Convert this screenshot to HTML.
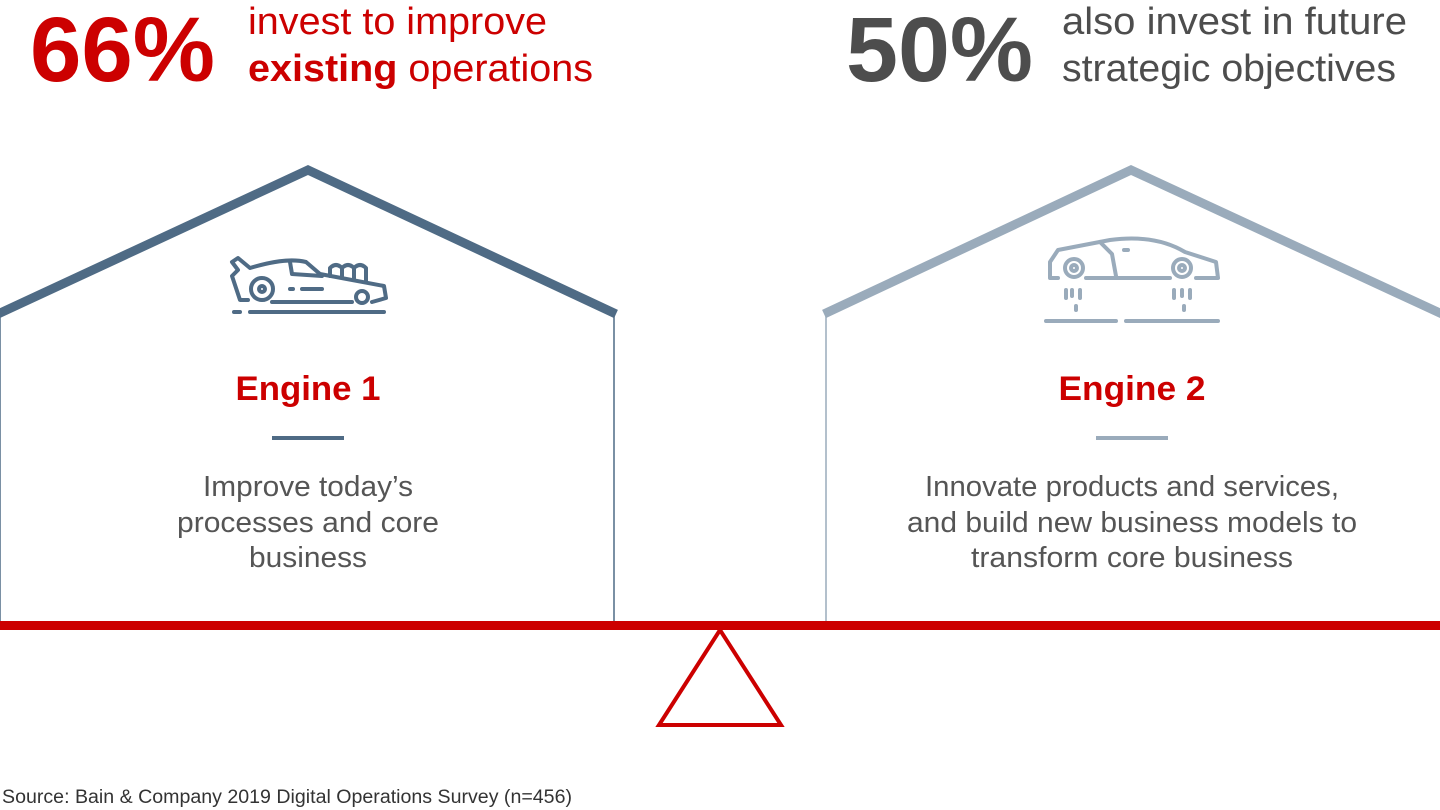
<!DOCTYPE html>
<html><head><meta charset="utf-8"><style>
body{margin:0;width:1440px;height:810px;background:#fff;overflow:hidden;font-family:"Liberation Sans",Arial,sans-serif}
svg{position:absolute;left:0;top:0}
</style></head><body>
<svg width="1440" height="810" viewBox="0 0 1440 810">
<g>
<text x="30" y="81" font-size="92" font-weight="bold" fill="#cc0000" textLength="185" lengthAdjust="spacingAndGlyphs">66%</text>
<text x="248" y="34" font-size="38" fill="#cc0000" textLength="299" lengthAdjust="spacingAndGlyphs">invest to improve</text>
<text x="248" y="81" font-size="38" fill="#cc0000" textLength="345" lengthAdjust="spacingAndGlyphs"><tspan font-weight="bold">existing</tspan> operations</text>
</g>
<g>
<text x="846" y="81" font-size="92" font-weight="bold" fill="#4d4d4d" textLength="187" lengthAdjust="spacingAndGlyphs">50%</text>
<text x="1062" y="34" font-size="38" fill="#4d4d4d" textLength="345" lengthAdjust="spacingAndGlyphs">also invest in future</text>
<text x="1062" y="81" font-size="38" fill="#4d4d4d" textLength="334" lengthAdjust="spacingAndGlyphs">strategic objectives</text>
</g>
<g>
<polyline points="0,313 0,622 614,622 614,313" fill="none" stroke="#4f6b85" stroke-width="1.5"/>
<polyline points="-2,314 308,170 616,314" fill="none" stroke="#4f6b85" stroke-width="9"/>
<g fill="none" stroke="#4f6b85" stroke-width="4" stroke-linecap="round" stroke-linejoin="round">
<path d="M248,300 L240,300 L236,288 L232,276 L238,270 L232,262 L238,258 L250,268 C270,262 290,258 306,262 L320,274 L384,286 L386,298 L372,302 M352,302 L272,302"/>
<path d="M290,262 L292,274 L322,276"/>
<circle cx="262" cy="289" r="11"/><circle cx="262" cy="289" r="3"/>
<circle cx="362" cy="297" r="6"/>
<path d="M330,276 V268 Q336,262 342,268 V278 M342,268 Q348,262 354,268 V280 M354,268 Q360,262 366,268 V282"/>
<path d="M290,289 h3 M302,289 h20"/>
<path d="M234,312 h6 M250,312 h134"/>
</g>
<text x="308" y="400" font-size="34" font-weight="bold" fill="#cc0000" text-anchor="middle" textLength="145" lengthAdjust="spacingAndGlyphs">Engine 1</text>
<rect x="272" y="436" width="72" height="4" fill="#4f6b85"/>
<g font-size="29" fill="#555" text-anchor="middle">
<text x="308" y="496" textLength="210" lengthAdjust="spacingAndGlyphs">Improve today’s</text><text x="308" y="532" textLength="262" lengthAdjust="spacingAndGlyphs">processes and core</text><text x="308" y="567" textLength="118" lengthAdjust="spacingAndGlyphs">business</text>
</g>
</g>
<g>
<polyline points="826,313 826,622 1440,622" fill="none" stroke="#9aabbb" stroke-width="1.5"/>
<polyline points="824,314 1131,170 1442,314" fill="none" stroke="#9aabbb" stroke-width="9"/>
<g fill="none" stroke="#9aabbb" stroke-width="4" stroke-linecap="round" stroke-linejoin="round">
<path d="M1058,278 L1050,278 L1050,262 L1058,250 L1110,240 C1140,236 1165,240 1185,252 L1216,262 L1218,278 L1196,278 M1170,278 L1122,278 L1086,278"/>
<path d="M1100,242 L1112,254 L1116,276"/>
<path d="M1124,250 h4"/>
<circle cx="1074" cy="268" r="9"/><circle cx="1074" cy="268" r="3"/>
<circle cx="1182" cy="268" r="9"/><circle cx="1182" cy="268" r="3"/>
<path d="M1066,290 v8 M1072,290 v6 M1080,290 v8 M1076,306 v4 M1174,290 v8 M1182,290 v6 M1190,290 v8 M1184,306 v4"/>
<path d="M1046,321 h70 M1126,321 h92"/>
</g>
<text x="1132" y="400" font-size="34" font-weight="bold" fill="#cc0000" text-anchor="middle" textLength="147" lengthAdjust="spacingAndGlyphs">Engine 2</text>
<rect x="1096" y="436" width="72" height="4" fill="#9aabbb"/>
<g font-size="29" fill="#555" text-anchor="middle">
<text x="1132" y="496" textLength="414" lengthAdjust="spacingAndGlyphs">Innovate products and services,</text><text x="1132" y="532" textLength="450" lengthAdjust="spacingAndGlyphs">and build new business models to</text><text x="1132" y="567" textLength="322" lengthAdjust="spacingAndGlyphs">transform core business</text>
</g>
</g>
<rect x="0" y="621" width="1440" height="9" fill="#cc0000"/>
<polygon points="720,630 659,725 781,725" fill="#fff" stroke="#cc0000" stroke-width="4"/>
<text x="2" y="803" font-size="19" fill="#333" textLength="570" lengthAdjust="spacingAndGlyphs">Source: Bain &amp; Company 2019 Digital Operations Survey (n=456)</text>
</svg>
</body></html>
